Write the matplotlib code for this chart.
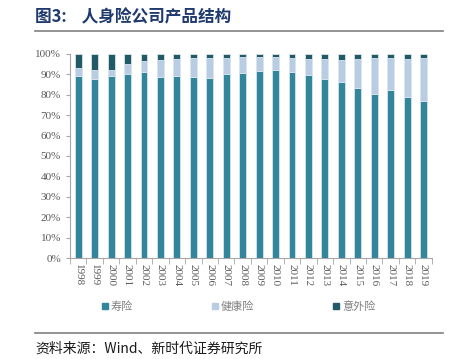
import matplotlib
matplotlib.use('Agg')
import matplotlib.pyplot as plt
from matplotlib.lines import Line2D
from matplotlib.ticker import PercentFormatter
import numpy as np

plt.rcParams['font.family'] = ['Noto Sans CJK SC', 'DejaVu Sans']

# 数据 (%)
years = [str(y) for y in range(1998, 2020)]
life = [89.2, 87.7, 89.2, 90.3, 91.2, 88.7, 89.2, 88.9, 88.4, 90.3, 90.7,
        91.7, 92.2, 91.0, 89.5, 87.9, 86.0, 83.5, 80.5, 82.5, 79.0, 76.8]
health_top = [93.0, 92.3, 92.0, 95.0, 96.6, 96.9, 97.5, 98.0, 97.9, 98.0, 98.5,
              98.4, 98.5, 97.9, 97.5, 97.4, 97.2, 97.5, 97.9, 97.9, 97.7, 97.9]
health = [h - l for h, l in zip(health_top, life)]
accident = [100 - h for h in health_top]

series_names = ['寿险', '健康险', '意外险']
colors = ['#31869B', '#B8CCE4', '#215967']

fig = plt.figure(figsize=(4.62, 3.59), dpi=100)
ax = fig.add_axes([0.1515, 0.281, 0.783, 0.569])

x = np.arange(len(years))
w = 0.42
bottom = np.zeros(len(years))
for vals, c in zip([life, health, accident], colors):
    ax.bar(x, vals, w, bottom=bottom, color=c, edgecolor='#D9E4EC', linewidth=0.6)
    bottom += np.array(vals)

ax.set_ylim(0, 100)
ax.set_xlim(-0.5, len(years) - 0.5)
ax.yaxis.set_major_formatter(PercentFormatter(decimals=0))
ax.set_yticks(np.arange(0, 101, 10))
for s in ['top', 'right']:
    ax.spines[s].set_visible(False)
for s in ['left', 'bottom']:
    ax.spines[s].set_color('#A6A6A6')
    ax.spines[s].set_linewidth(0.8)

ax.set_xticks(x)
ax.set_xticklabels(years, rotation=270, fontfamily='Liberation Serif', fontsize=8, color='#595959')
ax.tick_params(axis='x', which='major', length=0, pad=4)
ax.set_xticks(np.arange(-0.5, len(years), 1), minor=True)
ax.tick_params(axis='x', which='minor', length=4, color='#A6A6A6')
ax.tick_params(axis='y', length=3, color='#A6A6A6', labelsize=8, labelcolor='#595959')
for lab in ax.get_yticklabels():
    lab.set_fontfamily('Liberation Serif')

# 图例
handles = [Line2D([], [], marker='s', ls='', color=c, markersize=4) for c in colors]
fig.legend(handles, series_names, loc='center', bbox_to_anchor=(0.515, 0.147), ncol=3,
           frameon=False, fontsize=8, labelcolor='#7F7F7F', handletextpad=0.1,
           columnspacing=7.0, handlelength=0.8)

# 标题与来源
fig.text(0.076, 0.952, '图3:    人身险公司产品结构', fontsize=12, fontweight='bold',
         color='#1F3A6E', va='center')
fig.add_artist(Line2D([0.076, 0.958], [0.915, 0.915], color='#808080', lw=1.2))
fig.add_artist(Line2D([0.076, 0.958], [0.073, 0.073], color='#808080', lw=1.2))
fig.text(0.076, 0.03, '资料来源：Wind、新时代证券研究所', fontsize=10, color='#1a1a1a', va='center')

plt.savefig('out.png', dpi=100)
